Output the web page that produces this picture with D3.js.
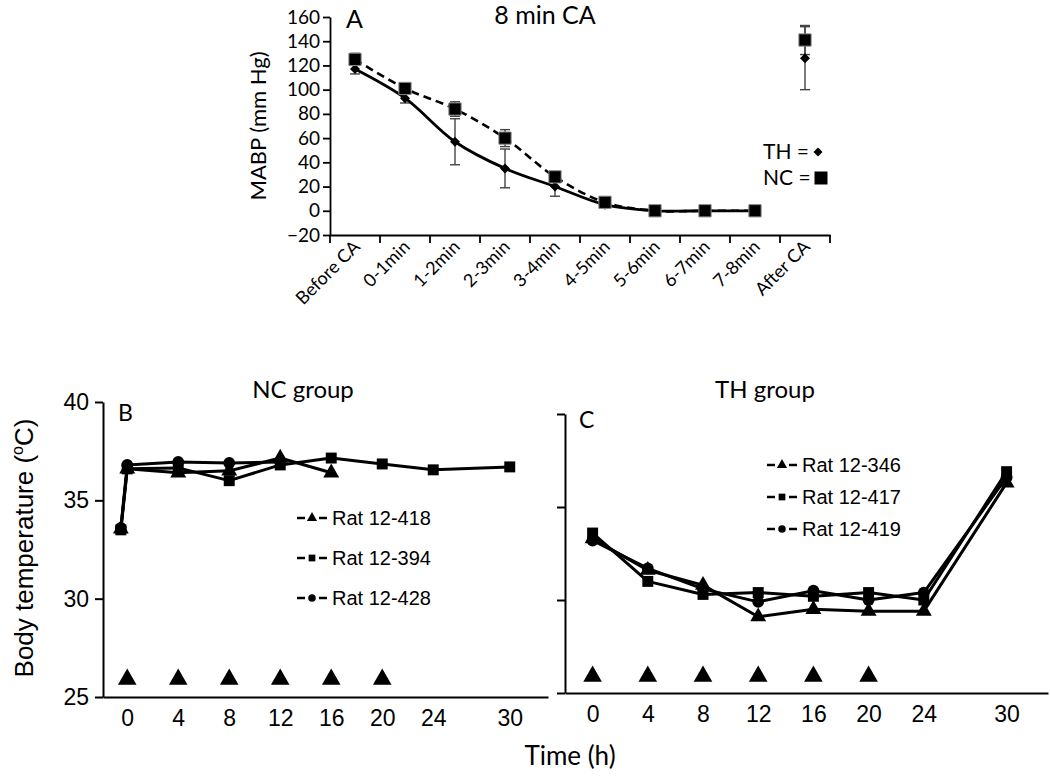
<!DOCTYPE html>
<html>
<head>
<meta charset="utf-8">
<script src="https://cdnjs.cloudflare.com/ajax/libs/d3/7.8.5/d3.min.js"></script>
<style>
  body { margin: 0; background: #fff; }
</style>
</head>
<body>
<div id="chart"></div>
<script>
// Panel A: MABP during cardiac arrest
const minuteLabels = ["Before CA", "0-1min", "1-2min", "2-3min", "3-4min", "4-5min", "5-6min", "6-7min", "7-8min", "After CA"];
const thMABP = [117, 93, 57, 35, 20, 5, 0, 0, 0, 126];
const thErr  = [4, 4, 19, 16, 8, 2, 0, 0, 0, 26];
const ncMABP = [125, 101, 84, 60, 28, 7, 0, 0, 0, 141];
const ncErr  = [5, 4, 6, 7, 4, 2, 0, 0, 0, 12];
const mabpTicks = [-20, 0, 20, 40, 60, 80, 100, 120, 140, 160];

// Panel B: NC group body temperature
const hoursB  = [-0.5, 0, 4, 8, 12, 16, 20, 24, 30];
const rat418 = [33.55, 36.6, 36.4, 36.5, 37.15, 36.4];
const rat394 = [33.5, 36.6, 36.65, 36.0, 36.8, 37.15, 36.85, 36.55, 36.7];
const rat428 = [33.6, 36.8, 36.95, 36.9, 36.95];

// Panel C: TH group body temperature
const hoursC  = [0, 4, 8, 12, 16, 20, 24, 30];
const rat346 = [33.3, 31.6, 30.8, 29.1, 29.5, 29.4, 29.4, 36.3];
const rat417 = [33.6, 31.0, 30.3, 30.4, 30.2, 30.4, 30.0, 36.9];
const rat419 = [33.2, 31.7, 30.6, 29.9, 30.5, 30.0, 30.4, 36.6];

const hourTicks = [0, 4, 8, 12, 16, 20, 24, 30];
const tempTicks = [25, 30, 35, 40];
const injectionHours = [0, 4, 8, 12, 16, 20];
const injectionLevel = 25.9;

const calibri = "Lato, 'Open Sans', sans-serif";
const arial = "'Liberation Sans', Arial, sans-serif";

const svg = d3.select("#chart")
    .append("svg")
    .attr("width", 1050)
    .attr("height", 776)
    .style("background", "#fff");

// ---------------- Panel A ----------------
const xA = d3.scaleBand().domain(minuteLabels).range([330, 830]);
const yA = d3.scaleLinear().domain([-20, 160]).range([235, 17]);
const cx = i => xA(minuteLabels[i]) + xA.bandwidth() / 2;

const gA = svg.append("g");

gA.append("g")
    .attr("transform", "translate(330,0)")
    .call(d3.axisLeft(yA).tickValues(mabpTicks).tickSize(7).tickSizeOuter(0))
    .call(g => g.select(".domain").attr("stroke", "#000").attr("stroke-width", 1.8))
    .call(g => g.selectAll(".tick line").attr("stroke", "#000").attr("stroke-width", 1.8))
    .call(g => g.selectAll("text").attr("font-family", calibri).attr("font-size", 19).attr("fill", "#000").attr("x", -10));

// x axis with ticks on category boundaries
gA.append("g")
    .attr("transform", "translate(0,235)")
    .call(d3.axisBottom(xA).tickSize(0).tickSizeOuter(0).tickFormat(""))
    .call(g => g.select(".domain").attr("stroke", "#000").attr("stroke-width", 1.8));

gA.append("g").selectAll("line")
    .data(minuteLabels.map(c => xA(c)).concat([xA.range()[1]]))
    .join("line")
    .attr("x1", d => d).attr("x2", d => d)
    .attr("y1", 235).attr("y2", 243)
    .attr("stroke", "#000").attr("stroke-width", 1.8);

gA.append("g").selectAll("text")
    .data(minuteLabels)
    .join("text")
    .attr("transform", (d, i) => `translate(${cx(i) + 6},${248}) rotate(-45)`)
    .attr("text-anchor", "end")
    .attr("font-family", calibri)
    .attr("font-size", 18)
    .text(d => d);

gA.append("text")
    .attr("transform", "translate(266,126) rotate(-90)")
    .attr("text-anchor", "middle")
    .attr("font-family", calibri)
    .attr("font-size", 22)
    .text("MABP (mm Hg)");

gA.append("text").attr("x", 545).attr("y", 24).attr("text-anchor", "middle")
    .attr("font-family", calibri).attr("font-size", 25).text("8 min CA");
gA.append("text").attr("x", 346).attr("y", 28)
    .attr("font-family", calibri).attr("font-size", 25).text("A");

// error bars
function errorBars(means, errs) {
    const idx = d3.range(means.length).filter(i => errs[i] > 0);
    const g = gA.append("g").attr("stroke", "#444").attr("stroke-width", 1.4);
    g.selectAll(".v").data(idx).join("line")
        .attr("x1", i => cx(i)).attr("x2", i => cx(i))
        .attr("y1", i => yA(means[i] - errs[i])).attr("y2", i => yA(means[i] + errs[i]));
    g.selectAll(".lo").data(idx).join("line")
        .attr("x1", i => cx(i) - 5).attr("x2", i => cx(i) + 5)
        .attr("y1", i => yA(means[i] - errs[i])).attr("y2", i => yA(means[i] - errs[i]));
    g.selectAll(".hi").data(idx).join("line")
        .attr("x1", i => cx(i) - 5).attr("x2", i => cx(i) + 5)
        .attr("y1", i => yA(means[i] + errs[i])).attr("y2", i => yA(means[i] + errs[i]));
}
errorBars(thMABP, thErr);
errorBars(ncMABP, ncErr);

const lineA = d3.line()
    .x((d, i) => cx(i))
    .y(d => yA(d))
    .curve(d3.curveCatmullRom);

gA.append("path").datum(thMABP.slice(0, 9))
    .attr("d", lineA).attr("fill", "none").attr("stroke", "#000").attr("stroke-width", 2.8);
gA.append("path").datum(ncMABP.slice(0, 9))
    .attr("d", lineA).attr("fill", "none").attr("stroke", "#000").attr("stroke-width", 2.6)
    .attr("stroke-dasharray", "8,5");

gA.append("g").selectAll("path").data(thMABP).join("path")
    .attr("transform", (d, i) => `translate(${cx(i)},${yA(d)}) rotate(45)`)
    .attr("d", d3.symbol(d3.symbolSquare, 50))
    .attr("fill", "#000");
gA.append("g").selectAll("path").data(ncMABP).join("path")
    .attr("transform", (d, i) => `translate(${cx(i)},${yA(d)})`)
    .attr("d", d3.symbol(d3.symbolSquare, 150))
    .attr("fill", "#000").attr("stroke", "#888").attr("stroke-width", 1);

// legend A
gA.append("text").attr("x", 763).attr("y", 159).attr("font-family", calibri).attr("font-size", 21).text("TH =");
gA.append("path").attr("transform", "translate(818,152) rotate(45)")
    .attr("d", d3.symbol(d3.symbolSquare, 40)).attr("fill", "#000");
gA.append("text").attr("x", 763).attr("y", 185).attr("font-family", calibri).attr("font-size", 21).text("NC =");
gA.append("path").attr("transform", "translate(821,178)")
    .attr("d", d3.symbol(d3.symbolSquare, 169)).attr("fill", "#000");

// ---------------- Panels B and C ----------------
const markerSize = { tri: 110, sq: 120, circ: 110 };
const symType = { tri: d3.symbolTriangle, sq: d3.symbolSquare, circ: d3.symbolCircle };

function tempPanel(opts) {
    const g = svg.append("g");
    const x = d3.scaleLinear().domain(opts.xDomain).range(opts.xRange);
    const y = d3.scaleLinear().domain([25, 40]).range(opts.yRange);
    const x0 = opts.xRange[0];
    const yBottom = opts.yRange[0];

    const yAxis = d3.axisLeft(y).tickValues(tempTicks).tickSize(8).tickSizeOuter(0);
    if (!opts.yLabels) yAxis.tickFormat("");
    g.append("g")
        .attr("transform", `translate(${x0},0)`)
        .call(yAxis)
        .call(s => s.select(".domain").attr("stroke", "#000").attr("stroke-width", 2))
        .call(s => s.selectAll(".tick line").attr("stroke", "#000").attr("stroke-width", 2))
        .call(s => s.selectAll("text").attr("font-family", arial).attr("font-size", 23).attr("fill", "#000").attr("x", -14));

    g.append("g")
        .attr("transform", `translate(0,${yBottom})`)
        .call(d3.axisBottom(x).tickValues(hourTicks).tickSize(0).tickSizeOuter(0).tickPadding(13))
        .call(s => s.select(".domain").attr("stroke", "#000").attr("stroke-width", 2))
        .call(s => s.selectAll("text").attr("font-family", arial).attr("font-size", 23).attr("fill", "#000"));

    // injection markers
    g.append("g").selectAll("path").data(injectionHours).join("path")
        .attr("transform", d => `translate(${x(d)},${y(injectionLevel)})`)
        .attr("d", d3.symbol(d3.symbolTriangle, 150))
        .attr("fill", "#000");

    const line = d3.line().x(d => x(d[0])).y(d => y(d[1]));
    opts.series.forEach(s => {
        const pts = s.values.map((v, i) => [opts.hours[i], v]);
        g.append("path").datum(pts)
            .attr("d", line).attr("fill", "none").attr("stroke", "#000").attr("stroke-width", 3)
            .attr("stroke-linejoin", "round");
        g.append("g").selectAll("path").data(pts).join("path")
            .attr("transform", d => `translate(${x(d[0])},${y(d[1])})`)
            .attr("d", d3.symbol(symType[s.sym], markerSize[s.sym]))
            .attr("fill", "#000");
    });

    // legend
    opts.series.forEach((s, i) => {
        const ly = opts.legendY + i * opts.legendStep;
        const lx = opts.legendX;
        const lg = g.append("g");
        lg.append("line").attr("x1", lx).attr("x2", lx + 8).attr("y1", ly).attr("y2", ly)
            .attr("stroke", "#000").attr("stroke-width", 2.5);
        lg.append("line").attr("x1", lx + 22).attr("x2", lx + 30).attr("y1", ly).attr("y2", ly)
            .attr("stroke", "#000").attr("stroke-width", 2.5);
        lg.append("path").attr("transform", `translate(${lx + 15},${ly})`)
            .attr("d", d3.symbol(symType[s.sym], 45)).attr("fill", "#000");
        lg.append("text").attr("x", lx + 35).attr("y", ly + 7)
            .attr("font-family", arial).attr("font-size", 20).text(s.name);
    });

    g.append("text").attr("x", opts.titleX).attr("y", 398).attr("text-anchor", "middle")
        .attr("font-family", calibri).attr("font-size", 24).text(opts.title);
    g.append("text").attr("x", opts.letterX).attr("y", opts.letterY)
        .attr("font-family", calibri).attr("font-size", 23).text(opts.letter);
}

tempPanel({
    xDomain: [-1.9, 33], xRange: [103, 548], yRange: [697, 402], yLabels: true,
    hours: hoursB,
    series: [
        { name: "Rat 12-418", values: rat418, sym: "tri" },
        { name: "Rat 12-394", values: rat394, sym: "sq" },
        { name: "Rat 12-428", values: rat428, sym: "circ" }
    ],
    legendX: 297, legendY: 518, legendStep: 40,
    title: "NC group", titleX: 303, letter: "B", letterX: 118, letterY: 421
});

tempPanel({
    xDomain: [-2, 33], xRange: [565, 1048], yRange: [693, 414], yLabels: false,
    hours: hoursC,
    series: [
        { name: "Rat 12-346", values: rat346, sym: "tri" },
        { name: "Rat 12-417", values: rat417, sym: "sq" },
        { name: "Rat 12-419", values: rat419, sym: "circ" }
    ],
    legendX: 767, legendY: 465, legendStep: 32,
    title: "TH group", titleX: 765, letter: "C", letterX: 579, letterY: 428
});

// shared labels
const yLab = svg.append("text")
    .attr("transform", "translate(33,548) rotate(-90)")
    .attr("text-anchor", "middle")
    .attr("font-family", arial)
    .attr("font-size", 26);
yLab.append("tspan").text("Body temperature (");
yLab.append("tspan").attr("font-size", 16).attr("dy", -10).text("o");
yLab.append("tspan").attr("dy", 10).text("C)");

svg.append("text").attr("x", 570).attr("y", 765).attr("text-anchor", "middle")
    .attr("font-family", calibri).attr("font-size", 26).text("Time (h)");
</script>
</body>
</html>
